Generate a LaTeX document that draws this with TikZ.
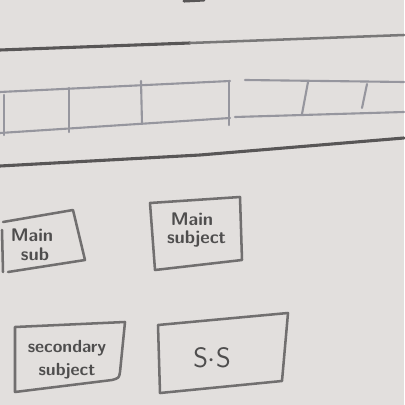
\documentclass[tikz,border=0pt]{standalone}
\usepackage{tikz}
\usetikzlibrary{calc}
\definecolor{paper}{RGB}{226,223,221}
\definecolor{pen}{RGB}{88,86,86}
\definecolor{pencil}{RGB}{150,150,158}
\tikzset{
  penline/.style={draw=pen,line width=2.2pt,line cap=round,line join=round},
  gridline/.style={draw=pencil,line width=1.5pt,line cap=round},
  boxline/.style={draw=pen!85,line width=1.8pt,line cap=round,line join=round},
  scribble/.style={text=pen!90!black,font=\sffamily\bfseries,inner sep=0pt}
}
\begin{document}
\begin{tikzpicture}[x=0.025cm,y=-0.025cm]
  \fill[paper] (0,0) rectangle (404,405);
  \useasboundingbox (0,0) rectangle (404,405);
  % top lines
  \draw[penline] (184,1)--(204,0);
  \draw[penline] (0,50)--(190,43);
  \draw[boxline,draw=pen!80] (190,43)--(404,35);
  % strip of cells
  \draw[gridline] (0,92)--(230,81);
  \draw[gridline] (245,80)--(404,82);
  \draw[gridline] (0,133)--(230,118);
  \draw[gridline] (235,117)--(404,112);
  \foreach \xa/\ya/\xb/\yb in {4/95/4/135, 69/88/69/132, 141/81/142/124, 229/82/229/125, 308/82/302/114, 367/84/362/108}
    \draw[gridline] (\xa,\ya)--(\xb,\yb);
  \draw[penline] (0,166)--(200,155)--(404,138);
  % main subject boxes
  \coordinate (ms1) at (3,222);
  \draw[boxline] (ms1)--(73,210)--(85,260)--(8,272);
  \draw[boxline] (2,230)--(3,272);
  \node[scribble,font=\sffamily\bfseries\fontsize{13}{15}\selectfont] (mainsub) at (32,245) {\shortstack{Main\\[1pt]\,\,sub}};
  \coordinate (ms2) at (150,203);
  \draw[boxline] (ms2)--(240,197)--(242,260)--(155,270)--cycle;
  \node[scribble,font=\sffamily\bfseries\fontsize{13}{15}\selectfont] (mainsubject) at (192,230) {\shortstack{Main\\[1pt]\,\,\,subject}};
  % secondary subject boxes
  \coordinate (ss1) at (15,327);
  \draw[boxline] (ss1)--(125,322)--(120,372)..controls (119,378) ..(112,380)--(15,392)--cycle;
  \node[scribble,font=\sffamily\bfseries\fontsize{12.5}{14}\selectfont] (secsubject) at (67,360) {\shortstack{secondary\\[2pt]subject}};
  \coordinate (ss2) at (158,325);
  \draw[boxline] (ss2)--(288,313)--(282,381)--(160,393)--cycle;
  \node[scribble,font=\sffamily\fontsize{20}{22}\selectfont] (ssabbr) at (212,358) {S$\cdot$S};
\end{tikzpicture}
\end{document}
